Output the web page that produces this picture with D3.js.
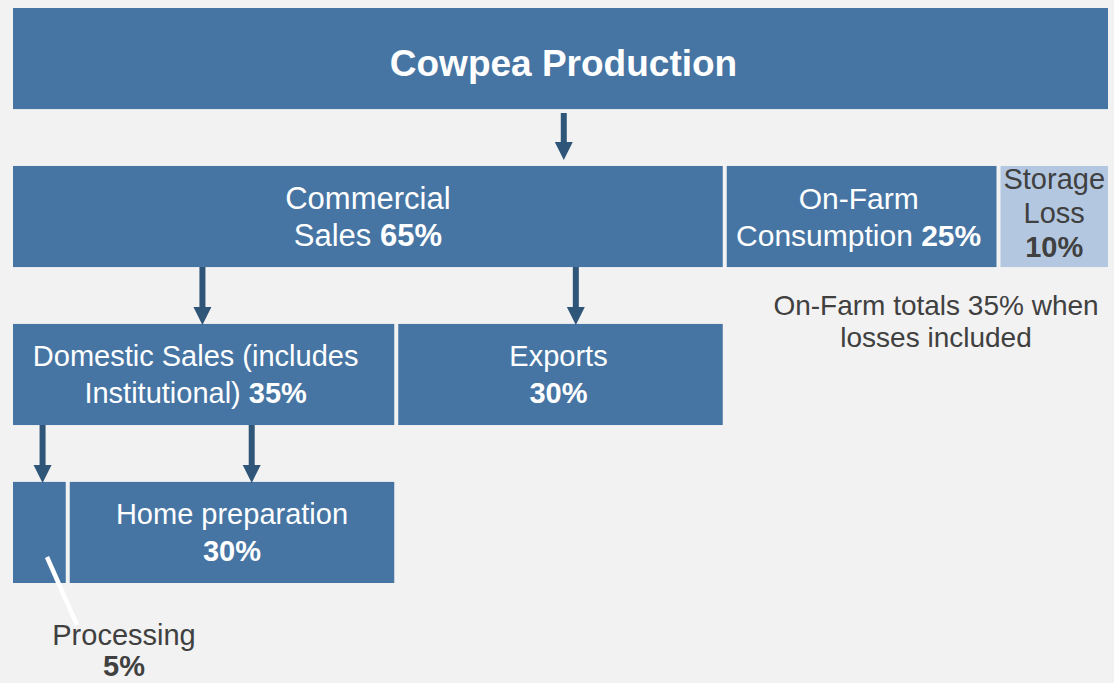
<!DOCTYPE html>
<html>
<head>
<meta charset="utf-8">
<script src="https://cdn.jsdelivr.net/npm/d3@7"></script>
<style>
  html, body { margin: 0; padding: 0; background: #f2f2f2; overflow: hidden; }
  svg { display: block; font-family: "Liberation Sans", Arial, sans-serif; }
</style>
</head>
<body>
<div id="chart"></div>
<script>
// boxes of the flow, in reading order
const boxNames  = ["Cowpea Production", "Commercial Sales", "On-Farm Consumption", "Storage Loss",
                   "Domestic Sales", "Exports", "Processing", "Home preparation"];
const boxShares = [100, 65, 25, 10, 35, 30, 5, 30];
const boxLevels = [0, 1, 1, 1, 2, 2, 3, 3];
// text lines inside each box (share is added after)
const boxLines  = [["Cowpea Production"], ["Commercial", "Sales"], ["On-Farm", "Consumption"],
                   ["Storage", "Loss"], ["Domestic Sales (includes", "Institutional)"],
                   ["Exports"], [], ["Home preparation"]];
// "inline" = share on last line, "newline" = own line, "none" = not shown, "outside" = callout
const sharePlace = ["none", "inline", "inline", "newline", "inline", "newline", "outside", "newline"];

// arrows: from which box, and where along the 0-100% axis
const arrowFrom = [0, 1, 1, 4, 4];
const arrowAt   = [50.3, 17.3, 51.4, 2.7, 21.8];

const noteLines = ["On-Farm totals 35% when", "losses included"];

const width = 1114, height = 683;
const blue = "#4675a4", light = "#b3c8e0", dark = "#404040", arrowCol = "#2f5679";

let svg = d3.select("#chart").append("svg")
    .attr("width", width)
    .attr("height", height);

let x = d3.scaleLinear().domain([0, 100]).range([13, 1108]);
let y = d3.scaleBand().domain([0, 1, 2, 3]).range([8, 583]).paddingInner(0.36);

// stack shares inside each level
let boxes = [];
let acc = {};
for (let i = 0; i < boxNames.length; i++) {
  let lv = boxLevels[i];
  let start = acc[lv] || 0;
  acc[lv] = start + boxShares[i];
  boxes.push({i: i, name: boxNames[i], share: boxShares[i], level: lv, start: start, end: start + boxShares[i]});
}

const gap = 2;
function bx0(d) { return x(d.start) + (d.start > 0 ? gap : 0); }
function bx1(d) { return x(d.end) - (d.end < 100 ? gap : 0); }

svg.selectAll("rect.box").data(boxes).enter()
  .append("rect")
  .attr("class", "box")
  .attr("x", bx0)
  .attr("y", d => y(d.level))
  .attr("width", d => bx1(d) - bx0(d))
  .attr("height", y.bandwidth())
  .attr("fill", d => d.i === 3 ? light : blue);

// font sizes / nudges per box
const fontSize = {0: 37, 1: 31, 2: 30, 3: 29, 4: 29, 5: 29, 7: 29};
const nudgeX = {0: 3, 4: -8, 5: -2, 2: -3};

boxes.forEach(function(d) {
  if (sharePlace[d.i] === "outside") return;
  let lines = boxLines[d.i].map(t => [[t, false]]);
  if (sharePlace[d.i] === "inline") {
    lines[lines.length - 1][0][0] += " ";
    lines[lines.length - 1].push([d.share + "%", true]);
  } else if (sharePlace[d.i] === "newline") {
    lines.push([[d.share + "%", true]]);
  }
  let fs = fontSize[d.i];
  let lh = d.i === 3 ? 34 : 37;
  let cx = (bx0(d) + bx1(d)) / 2 + (nudgeX[d.i] || 0);
  let cy = y(d.level) + y.bandwidth() / 2 + (d.i === 0 ? 5 : 0) - (d.i === 3 ? 4 : 0);
  let t = svg.append("text")
    .attr("text-anchor", "middle")
    .attr("font-size", fs)
    .attr("fill", d.i === 3 ? dark : "#fff")
    .attr("font-weight", d.i === 0 ? "bold" : "normal");
  lines.forEach(function(segs, k) {
    let baseY = cy + (k - (lines.length - 1) / 2) * lh + fs * 0.35;
    let line = t.append("tspan").attr("x", cx).attr("y", baseY);
    segs.forEach(function(s) {
      line.append("tspan")
        .attr("font-weight", s[1] || d.i === 0 ? "bold" : "normal")
        .text(s[0]);
    });
  });
});

// arrows
let arrows = arrowFrom.map((f, k) => ({from: boxes[f], at: arrowAt[k]}));
svg.selectAll("path.arrow").data(arrows).enter()
  .append("path")
  .attr("class", "arrow")
  .attr("fill", arrowCol)
  .attr("d", function(a) {
    let lv = a.from.level;
    let top = y(lv) + y.bandwidth() + (lv === 0 ? 4 : 0);
    let tip = y(lv + 1) - (lv === 0 ? 6 : -1);
    let cx = x(a.at), sw = 3, hw = 9, hh = 18;
    return `M${cx - sw},${top} L${cx + sw},${top} L${cx + sw},${tip - hh} L${cx + hw},${tip - hh}
            L${cx},${tip} L${cx - hw},${tip - hh} L${cx - sw},${tip - hh} Z`;
  });

// processing callout below its tiny box
let proc = boxes[6];
let procY = y(proc.level) + y.bandwidth();
svg.append("line")
  .attr("x1", x(proc.start) + 34).attr("y1", procY - 26)
  .attr("x2", x(proc.start) + 64).attr("y2", procY + 42)
  .attr("stroke", "#fff")
  .attr("stroke-width", 4.5);

let pt = svg.append("text")
  .attr("text-anchor", "middle")
  .attr("font-size", 29)
  .attr("fill", dark);
pt.append("tspan").attr("x", 124).attr("y", procY + 62).text(proc.name);
pt.append("tspan").attr("x", 124).attr("y", procY + 93).attr("font-weight", "bold").text(proc.share + "%");

// note under the on-farm boxes
let note = svg.append("text")
  .attr("text-anchor", "middle")
  .attr("font-size", 28)
  .attr("fill", dark);
noteLines.forEach(function(l, k) {
  note.append("tspan")
    .attr("x", 936)
    .attr("y", y(1) + y.bandwidth() + 48 + k * 32)
    .text(l);
});
</script>
</body>
</html>
